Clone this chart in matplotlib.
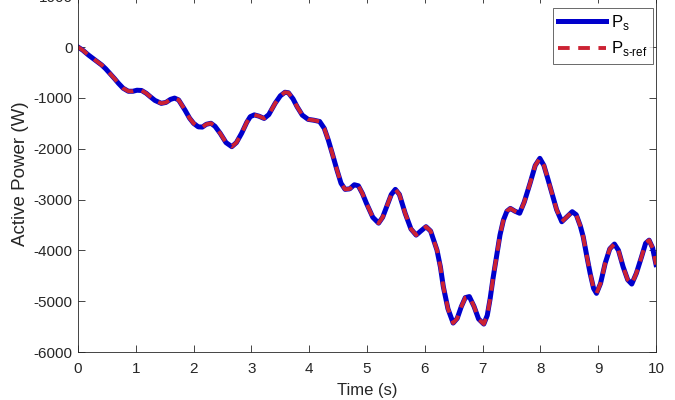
import matplotlib
matplotlib.use("Agg")
import matplotlib.pyplot as plt

# values (time in s, active power in W)
time_s = [0.00, 0.08, 0.18, 0.30, 0.41, 0.48, 0.55, 0.63, 0.70, 0.78,
          0.87, 0.95, 1.02, 1.10, 1.18, 1.25, 1.33, 1.44, 1.52, 1.60,
          1.67, 1.74, 1.85, 1.93, 2.00, 2.08, 2.15, 2.22, 2.30, 2.37,
          2.46, 2.56, 2.66, 2.74, 2.83, 2.92, 2.98, 3.05, 3.13, 3.22,
          3.30, 3.41, 3.50, 3.58, 3.64, 3.72, 3.79, 3.88, 3.98, 4.08,
          4.18, 4.26, 4.33, 4.40, 4.48, 4.55, 4.62, 4.70, 4.78, 4.85,
          4.92, 4.99, 5.10, 5.20, 5.27, 5.34, 5.42, 5.49, 5.56, 5.66,
          5.76, 5.85, 5.93, 6.02, 6.10, 6.21, 6.27, 6.32, 6.40, 6.49,
          6.56, 6.63, 6.70, 6.77, 6.85, 6.93, 7.02, 7.08, 7.13, 7.18,
          7.24, 7.30, 7.36, 7.42, 7.48, 7.56, 7.64, 7.72, 7.82, 7.91,
          7.99, 8.06, 8.13, 8.20, 8.28, 8.37, 8.46, 8.55, 8.62, 8.69,
          8.74, 8.80, 8.86, 8.92, 8.97, 9.04, 9.12, 9.20, 9.28, 9.35,
          9.43, 9.51, 9.58, 9.66, 9.75, 9.82, 9.88, 9.94, 10.00]
p_s = [0, -60, -157, -260, -354, -430, -518, -620, -714, -810,
       -870, -870, -850, -855, -910, -977, -1050, -1108, -1090, -1030,
       -1005, -1040, -1240, -1400, -1502, -1570, -1575, -1520, -1500, -1560,
       -1698, -1880, -1960, -1880, -1698, -1480, -1370, -1335, -1360, -1405,
       -1330, -1108, -960, -890, -900, -1020, -1174, -1340, -1423, -1440,
       -1465, -1600, -1830, -2100, -2420, -2680, -2800, -2790, -2710, -2730,
       -2880, -3075, -3350, -3465, -3350, -3142, -2900, -2800, -2900, -3272,
       -3580, -3700, -3620, -3535, -3620, -3994, -4330, -4716, -5150, -5430,
       -5340, -5110, -4930, -4910, -5100, -5350, -5450, -5280, -4950, -4550,
       -4125, -3700, -3403, -3230, -3175, -3230, -3270, -3050, -2682, -2330,
       -2190, -2330, -2600, -2878, -3200, -3437, -3340, -3240, -3300, -3520,
       -3732, -4100, -4452, -4750, -4846, -4650, -4255, -3970, -3876, -4000,
       -4322, -4580, -4663, -4450, -4125, -3860, -3800, -3950, -4280]
p_s_ref = list(p_s)

x_ticks = list(range(0, 11))
y_ticks = list(range(-6000, 1001, 1000))

plt.rcParams['font.family'] = ['Liberation Sans', 'DejaVu Sans']
plt.rcParams['mathtext.fontset'] = 'custom'
plt.rcParams['mathtext.rm'] = 'Liberation Sans'
plt.rcParams['axes.unicode_minus'] = False

gray = '#262626'
fig = plt.figure(figsize=(6.75, 4.0), dpi=100)
ax = fig.add_axes([0.1156, 0.12, 0.8563, 0.8895])

ax.plot(time_s, p_s, color='#0000cc', lw=3.6, solid_joinstyle='round',
        label=r'P$_{\mathrm{s}}$')
ax.plot(time_s, p_s_ref, color='#cc2233', lw=2.8, dashes=(3, 2.2),
        label=r'P$_{\mathrm{s\text{-}ref}}$')

ax.set_xlim(0, 10)
ax.set_ylim(-6000, 1000)
ax.set_xticks(x_ticks)
ax.set_yticks(y_ticks)
ax.tick_params(direction='in', length=5, width=0.6, colors=gray,
               labelsize=11, top=True, right=True)
ax.tick_params(axis='x', pad=7)
ax.tick_params(axis='y', pad=4)
for sp in ax.spines.values():
    sp.set_color(gray)
    sp.set_linewidth(0.6)

ax.set_xlabel('Time (s)', fontsize=12, color=gray, labelpad=5)
ax.set_ylabel('Active Power (W)', fontsize=13.5, color=gray, labelpad=3)

leg = ax.legend(loc='upper right', bbox_to_anchor=(0.9674, 0.98),
                bbox_transform=fig.transFigure, borderaxespad=0,
                fontsize=12, frameon=True, fancybox=False, edgecolor=gray,
                handlelength=2.9, handletextpad=0.3, borderpad=0.3,
                labelspacing=0.45)
leg.get_frame().set_linewidth(0.6)

fig.savefig('out.png', dpi=100)
